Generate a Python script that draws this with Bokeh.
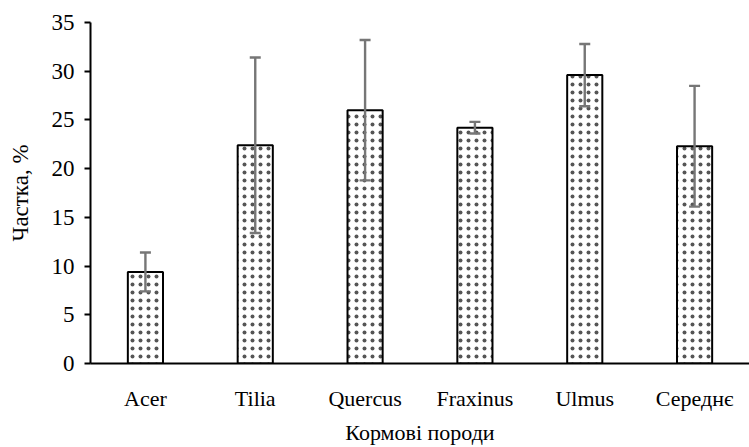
from bokeh.plotting import figure
from bokeh.models import ColumnDataSource, Whisker, TeeHead, FactorRange, Range1d, FixedTicker
from bokeh.embed import file_html
from bokeh.resources import INLINE

categories = ["Acer", "Tilia", "Quercus", "Fraxinus", "Ulmus", "Середнє"]
values = [9.4, 22.4, 26.0, 24.2, 29.6, 22.3]
errors = [2.0, 9.0, 7.2, 0.6, 3.2, 6.2]
y_ticks = [0, 5, 10, 15, 20, 25, 30, 35]

upper = [v + e for v, e in zip(values, errors)]
lower = [v - e for v, e in zip(values, errors)]
src = ColumnDataSource(dict(cat=categories, val=values, upper=upper, lower=lower))

FONT = "Liberation Serif"

p = figure(x_range=FactorRange(*categories), y_range=Range1d(0, 35),
           width=749, height=447, output_backend="svg", toolbar_location=None,
           min_border_left=90, min_border_right=0, min_border_top=22, min_border_bottom=81)
p.background_fill_color = "white"
p.border_fill_color = "white"
p.outline_line_color = None
p.grid.grid_line_color = None

p.vbar(x="cat", top="val", bottom=0, width=0.32, source=src,
       fill_color="white", line_color="black", line_width=2,
       hatch_pattern="dot", hatch_color="#555555", hatch_scale=8, hatch_weight=0.6)

w = Whisker(base="cat", upper="upper", lower="lower", source=src, level="overlay",
            line_color="#767676", line_width=2.4,
            upper_head=TeeHead(size=11, line_color="#767676", line_width=2.4),
            lower_head=TeeHead(size=11, line_color="#767676", line_width=2.4))
p.add_layout(w)

p.yaxis.ticker = FixedTicker(ticks=y_ticks)
p.yaxis.axis_label = "Частка, %"
p.xaxis.axis_label = "Кормові породи"
for ax in (p.xaxis, p.yaxis):
    ax.axis_line_color = "black"
    ax.axis_line_width = 2
    ax.major_label_text_font = FONT
    ax.major_label_text_font_size = "23px"
    ax.major_label_text_color = "black"
    ax.axis_label_text_font = FONT
    ax.axis_label_text_font_size = "23px"
    ax.axis_label_text_font_style = "normal"
    ax.axis_label_text_color = "black"
    ax.minor_tick_line_color = None

p.xaxis.major_label_text_font_size = "22px"
p.xaxis.axis_label_text_font_size = "22px"

p.yaxis.major_tick_line_color = "black"
p.yaxis.major_tick_line_width = 2
p.yaxis.major_tick_out = 6
p.yaxis.major_tick_in = 0
p.yaxis.major_label_standoff = 10
p.yaxis.axis_label_standoff = 16

p.xaxis.major_tick_line_color = None
p.xaxis.major_label_standoff = 16
p.xaxis.axis_label_standoff = 6

open("out.html", "w").write(file_html(p, INLINE))
